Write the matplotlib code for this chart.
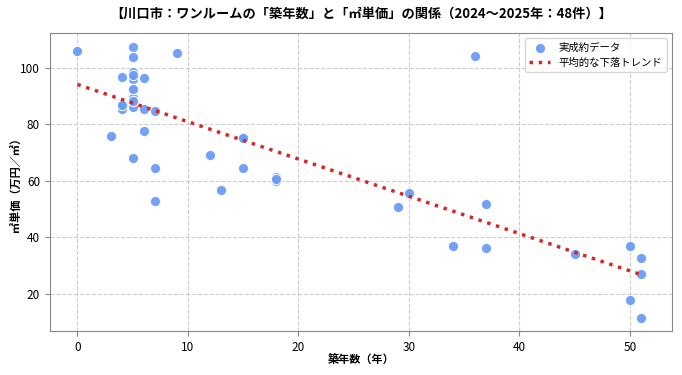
import numpy as np
import matplotlib
matplotlib.use("Agg")
import matplotlib.pyplot as plt

plt.rcParams["font.family"] = ["Noto Sans CJK JP", "DejaVu Sans"]

# 築年数 (年) and ㎡単価 (万円/㎡)
age = [0, 5, 5, 4, 5, 5, 5, 6, 9, 5, 5, 5, 5, 4, 4, 4, 5, 6, 7, 3,
       6, 5, 7, 7, 12, 13, 15, 15, 18, 18, 36, 30, 29, 37, 34, 37, 45,
       50, 51, 51, 50, 51, 5, 5, 4, 5, 15, 18]
price = [106.1, 107.5, 104.0, 96.7, 98.5, 96.9, 96.2, 96.3, 105.4, 91.8,
         91.0, 90.2, 89.2, 87.2, 86.3, 85.4, 86.3, 85.6, 84.9, 75.9,
         77.8, 68.2, 64.5, 52.7, 69.0, 56.7, 75.4, 64.4, 61.5, 59.8,
         104.3, 55.8, 50.7, 51.8, 36.9, 36.3, 34.0, 36.9, 32.5, 27.1,
         17.7, 11.2, 97.6, 92.4, 86.8, 88.4, 75.0, 60.6]

age = np.array(age)
price = np.array(price)

# linear trend fitted on the data
slope, intercept = np.polyfit(age, price, 1)
xs = np.linspace(age.min(), age.max(), 100)

fig, ax = plt.subplots(figsize=(6.82, 3.75), dpi=100)
ax.scatter(age, price, s=55, color="#6a9cf7", edgecolor="white", lw=0.8,
           alpha=0.95, zorder=3, label="実成約データ")
ax.plot(xs, slope * xs + intercept, color="#d62728", ls=":", lw=2.5,
        zorder=4, label="平均的な下落トレンド")

ax.set_xlim(-2.5, 53.8)
ax.set_ylim(6.7, 112.4)
ax.set_yticks([20, 40, 60, 80, 100])
ax.set_title("【川口市：ワンルームの「築年数」と「㎡単価」の関係（2024〜2025年：48件）】",
             fontsize=9.5, fontweight="bold", pad=11)
ax.set_xlabel("築年数（年）", fontsize=8, fontweight="bold", labelpad=0)
ax.set_ylabel("㎡単価（万円／㎡）", fontsize=8, fontweight="bold")
ax.yaxis.set_label_coords(-0.043, 0.5)
ax.tick_params(labelsize=8.5, color="#888888")
for s in ax.spines.values():
    s.set_color("#888888")
ax.grid(True, ls="--", color="#cccccc", lw=0.8)
ax.legend(loc="upper right", fontsize=7.5)

fig.subplots_adjust(left=0.073, right=0.985, top=0.912, bottom=0.117)
plt.savefig("out.png", dpi=100)
